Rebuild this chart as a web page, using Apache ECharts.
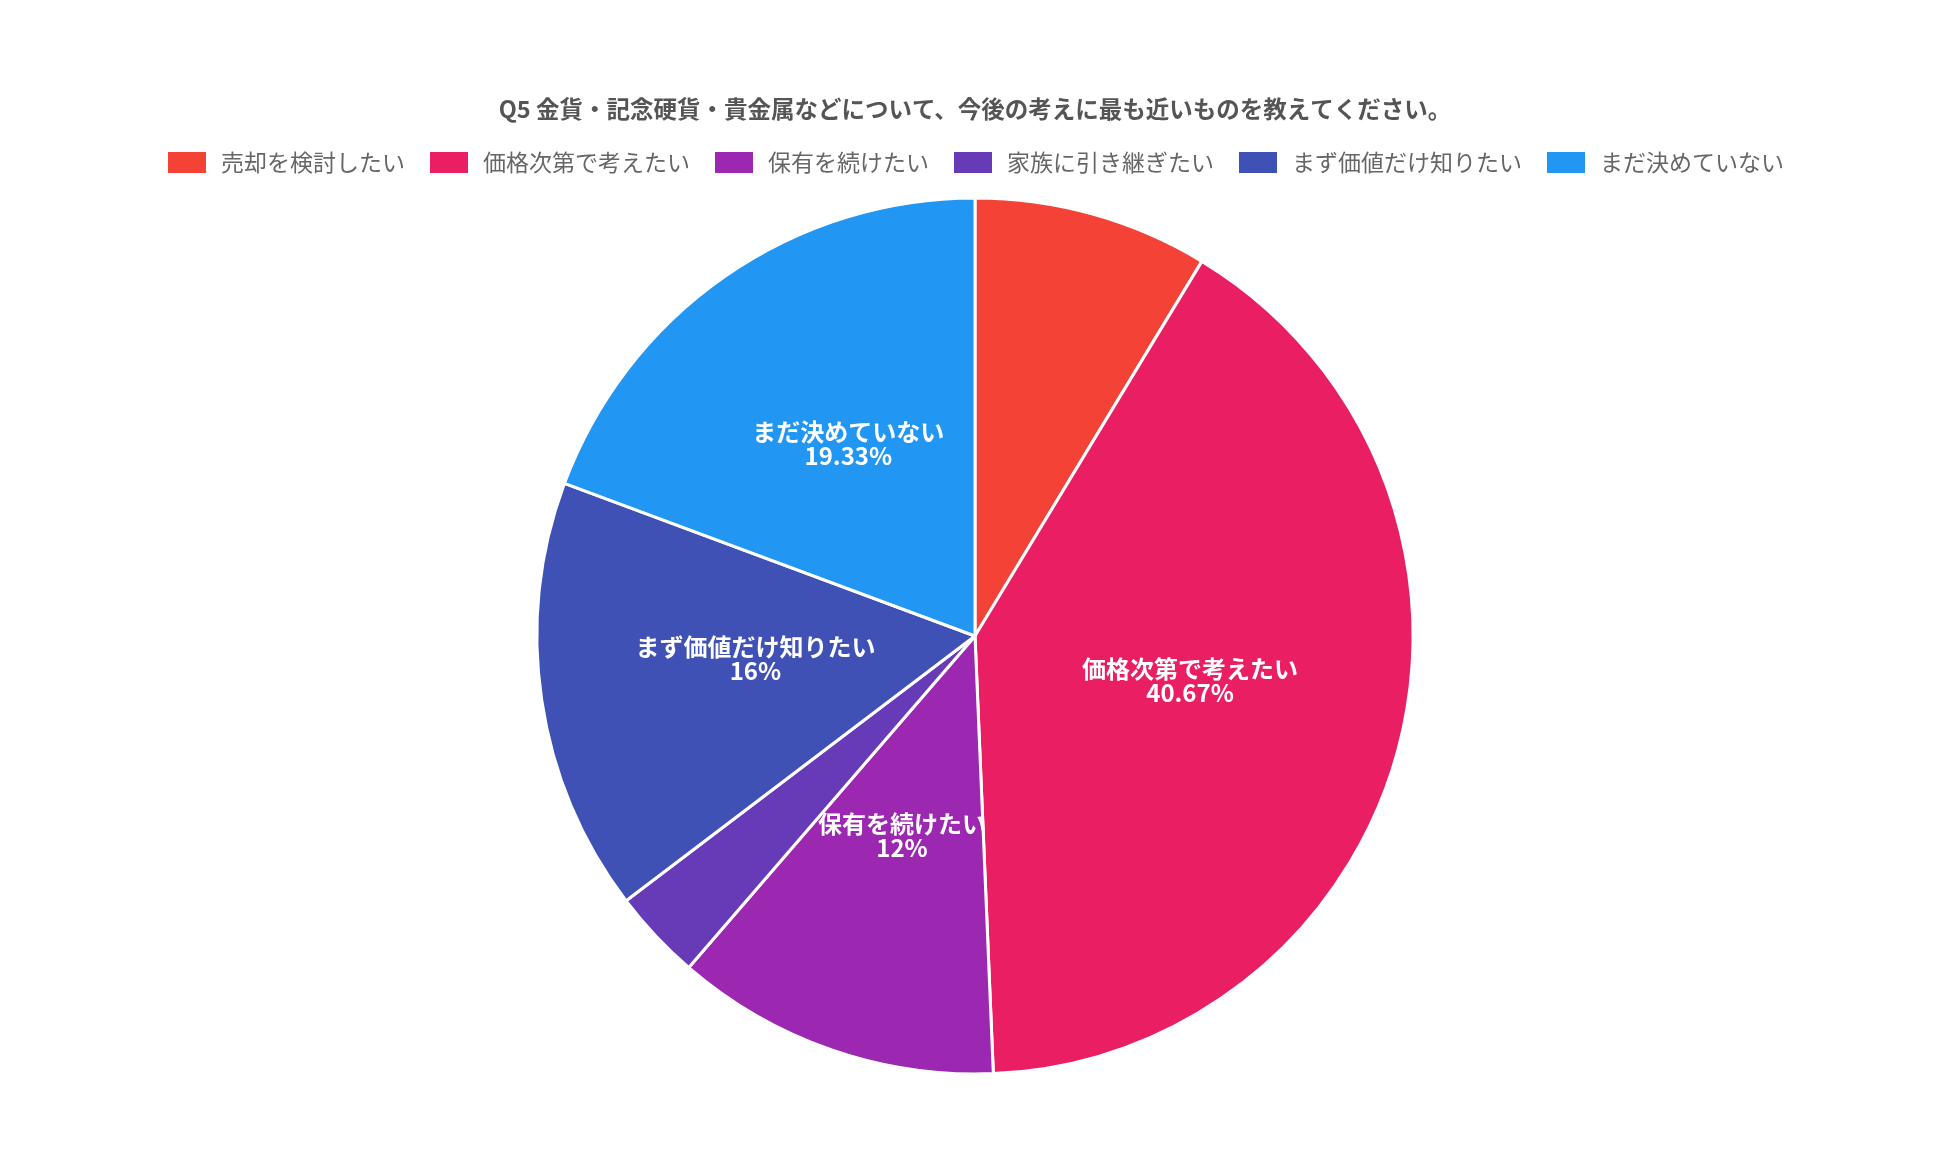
<!DOCTYPE html>
<html>
<head>
<meta charset="utf-8">
<title>Q5</title>
<script src="https://cdn.jsdelivr.net/npm/echarts@6/dist/echarts.min.js"></script>
<style>
  html, body { margin: 0; padding: 0; background: #fff; }
  #main { width: 1950px; height: 1168px; }
</style>
</head>
<body>
<div id="main"></div>
<script>
var titleText = 'Q5 金貨・記念硬貨・貴金属などについて、今後の考えに最も近いものを教えてください。';
var categories = ['売却を検討したい', '価格次第で考えたい', '保有を続けたい', '家族に引き継ぎたい', 'まず価値だけ知りたい', 'まだ決めていない'];
// 回答数（計150）
var counts = [13, 61, 18, 5, 24, 29];
var colors = ['#F44336', '#E91E63', '#9C27B0', '#673AB7', '#3F51B5', '#2196F3'];

var pieData = categories.map(function (name, i) {
    return { name: name, value: counts[i] };
});

var font = '"Noto Sans CJK JP", "Noto Sans", sans-serif';

var option = {
    backgroundColor: '#fff',
    color: colors,
    title: {
        text: titleText,
        left: 'center',
        top: 97,
        padding: 0,
        textStyle: {
            fontFamily: font,
            fontSize: 23.5,
            fontWeight: 'bold',
            color: '#555'
        }
    },
    legend: {
        data: categories,
        top: 150,
        left: 'center',
        padding: 0,
        itemWidth: 40,
        itemHeight: 23,
        itemGap: 23,
        icon: 'rect',
        textStyle: {
            fontFamily: font,
            fontSize: 23,
            color: '#666',
            padding: [0, 0, 0, 9]
        }
    },
    series: [
        {
            name: titleText,
            type: 'pie',
            center: [975, 636],
            radius: 438,
            startAngle: 90,
            clockwise: true,
            data: pieData,
            itemStyle: {
                borderColor: '#fff',
                borderWidth: 3
            },
            label: {
                position: 'inside',
                offset: [0, -10],
                fontFamily: font,
                fontSize: 24,
                fontWeight: 'bold',
                color: '#fff',
                lineHeight: 24,
                formatter: function (p) {
                    // 小さい区分はラベルなし
                    if (p.percent < 10) return '';
                    return p.name + '\n' + p.percent + '%';
                }
            },
            labelLine: { show: false },
            emphasis: { scale: false }
        }
    ]
};

var myChart = echarts.init(document.getElementById('main'));
myChart.setOption(option);
</script>
</body>
</html>
